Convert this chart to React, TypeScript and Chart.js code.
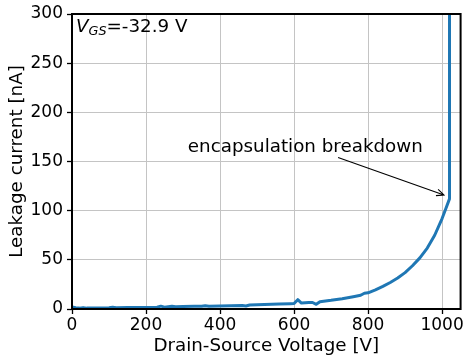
import React, { useEffect, useRef } from "react";
import { Chart, registerables } from "chart.js";

Chart.register(...registerables);

// Measured leakage current vs. drain-source voltage
const voltages = [0, 10, 20, 30, 40, 60, 80, 100, 110, 120, 150, 180, 200, 230, 240, 250, 270, 280, 300, 330, 350, 360, 370, 400, 430, 460, 470, 480, 520, 560, 590, 600, 610, 620, 640, 650, 660, 670, 700, 730, 760, 780, 790, 800, 820, 840, 860, 880, 900, 920, 940, 960, 980, 1000, 1010, 1020, 1020];
const currents = [2.0, 1.2, 0.9, 1.4, 0.9, 1.0, 1.1, 1.2, 1.7, 1.3, 1.4, 1.5, 1.6, 1.8, 2.9, 1.9, 2.9, 2.3, 2.5, 2.7, 2.8, 3.3, 2.8, 3.1, 3.3, 3.5, 3.0, 4.0, 4.5, 5.0, 5.4, 5.5, 9.5, 6.0, 6.5, 6.6, 4.8, 7.4, 8.8, 10.5, 12.5, 14, 16, 16.5, 19.5, 23, 27, 31.5, 37, 44, 52, 62, 75, 92, 102, 112, 320];

const xTicks = [0, 200, 400, 600, 800, 1000];
const yTicks = [0, 50, 100, 150, 200, 250, 300];
const xRange = [0, 1050];
const yRange = [0, 300];

const annotationText = "encapsulation breakdown";
const annotationTextPos = [313, 160];
const arrowTail = [719, 154];
const arrowTip = [1005, 116];
const vgsLabel = { v: "V", sub: "GS", rest: "=-32.9 V" };

const FONT = "'DejaVu Sans', sans-serif";
const FS = 18.3;
const TFS = 17;

const overlay = {
  id: "overlay",
  afterDatasetsDraw(chart: any) {
    const { ctx, chartArea: a, scales } = chart;
    const x = scales.x, y = scales.y;
    ctx.save();
    // frame (all four spines)
    ctx.strokeStyle = "#000";
    ctx.lineWidth = 2;
    ctx.strokeRect(a.left, a.top, a.right - a.left, a.bottom - a.top);

    // V_GS label
    ctx.fillStyle = "#000";
    ctx.textBaseline = "alphabetic";
    ctx.textAlign = "left";
    let tx = a.left + 4;
    const ty = a.top + 17.5;
    ctx.font = `italic ${FS}px ${FONT}`;
    ctx.fillText(vgsLabel.v, tx, ty);
    tx += ctx.measureText(vgsLabel.v).width;
    ctx.font = `italic ${FS * 0.7}px ${FONT}`;
    ctx.fillText(vgsLabel.sub, tx, ty + 3.5);
    tx += ctx.measureText(vgsLabel.sub).width;
    ctx.font = `${FS}px ${FONT}`;
    ctx.fillText(vgsLabel.rest, tx, ty);

    // annotation text
    ctx.fillText(annotationText, x.getPixelForValue(annotationTextPos[0]), y.getPixelForValue(annotationTextPos[1]));

    // arrow
    const x0 = x.getPixelForValue(arrowTail[0]), y0 = y.getPixelForValue(arrowTail[1]);
    const x1 = x.getPixelForValue(arrowTip[0]), y1 = y.getPixelForValue(arrowTip[1]);
    ctx.lineWidth = 1.1;
    ctx.beginPath();
    ctx.moveTo(x0, y0);
    ctx.lineTo(x1, y1);
    const ang = Math.atan2(y1 - y0, x1 - x0);
    const hl = 8, ha = 0.42;
    ctx.moveTo(x1 - hl * Math.cos(ang - ha), y1 - hl * Math.sin(ang - ha));
    ctx.lineTo(x1, y1);
    ctx.lineTo(x1 - hl * Math.cos(ang + ha), y1 - hl * Math.sin(ang + ha));
    ctx.stroke();
    ctx.restore();
  },
};

export default function App() {
  const ref = useRef<HTMLCanvasElement>(null);
  useEffect(() => {
    const points = voltages.map((v, i) => ({ x: v, y: currents[i] }));
    const chart = new Chart(ref.current!, {
      type: "line",
      data: {
        datasets: [
          {
            data: points,
            borderColor: "#1f77b4",
            borderWidth: 3,
            pointRadius: 0,
            tension: 0,
            borderJoinStyle: "round",
            fill: false,
          },
        ],
      },
      options: {
        responsive: false,
        animation: false,
        devicePixelRatio: 1,
        layout: { padding: { top: 14, right: 6, left: 0, bottom: 0 } },
        plugins: { legend: { display: false }, tooltip: { enabled: false } },
        scales: {
          x: {
            type: "linear",
            min: xRange[0],
            max: xRange[1],
            afterFit: (s: any) => { s.height = 46; },
            afterBuildTicks: (s: any) => { s.ticks = xTicks.map((v) => ({ value: v })); },
            border: { display: false },
            grid: { color: "#c4c4c4", lineWidth: 1, tickColor: "#000", tickLength: 5, tickWidth: 1.3 },
            ticks: { color: "#000", padding: 3, maxRotation: 0, callback: (v: any) => String(v), font: { family: FONT, size: TFS, lineHeight: 1 } },
            title: { display: true, text: "Drain-Source Voltage [V]", color: "#000", padding: { top: 0, bottom: 0 }, font: { family: FONT, size: FS, lineHeight: 1 } },
          },
          y: {
            type: "linear",
            min: yRange[0],
            max: yRange[1],
            afterFit: (s: any) => { s.width = 72; },
            afterBuildTicks: (s: any) => { s.ticks = yTicks.map((v) => ({ value: v })); },
            border: { display: false },
            grid: { color: "#c4c4c4", lineWidth: 1, tickColor: "#000", tickLength: 5, tickWidth: 1.3 },
            ticks: { color: "#000", padding: 4, callback: (v: any) => String(v), font: { family: FONT, size: TFS, lineHeight: 1 } },
            title: { display: true, text: "Leakage current [nA]", color: "#000", padding: { top: 7.5, bottom: 0 }, font: { family: FONT, size: FS, lineHeight: 1.1 } },
          },
        },
      },
      plugins: [overlay],
    });
    return () => chart.destroy();
  }, []);
  return (
    <div style={{ position: "absolute", left: 0, top: 0, width: 467, height: 355 }}>
      <canvas ref={ref} width={467} height={355} />
    </div>
  );
}
